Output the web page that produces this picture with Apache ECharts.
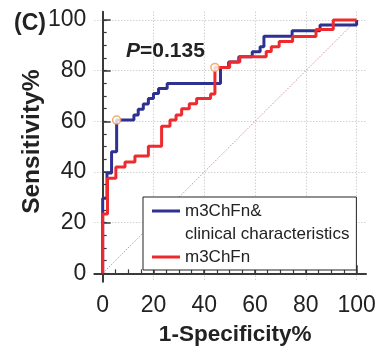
<!DOCTYPE html>
<html>
<head>
<meta charset="utf-8">
<script src="https://cdn.jsdelivr.net/npm/echarts@6/dist/echarts.min.js"></script>
<style>
  html, body { margin: 0; padding: 0; background: #fff; }
  #chart { width: 378px; height: 347px; }
</style>
</head>
<body>
<div id="chart"></div>
<script>
/* ROC 阶梯曲线拐点 [1-特异度, 灵敏度] */
const comboRoc = [
  [0, 0], [0, 29.6], [1.7, 29.6], [1.7, 39.6], [3.5, 39.6], [3.5, 48], [5.5, 48], [5.5, 60.5],
  [12.3, 60.5], [12.3, 62.5], [14, 62.5], [14, 64.8], [16, 64.8], [16, 66.9], [18, 66.9], [18, 69],
  [20, 69], [20, 71], [22, 71], [22, 73], [25.4, 73], [25.4, 75], [46.4, 75], [46.4, 81.3],
  [49.6, 81.3], [49.6, 83.4], [53.6, 83.4], [53.6, 85.5], [58.9, 85.5], [58.9, 87.5], [62, 87.5],
  [62, 89.5], [63.5, 89.5], [63.5, 93.6], [74.6, 93.6], [74.6, 95.8], [85.6, 95.8], [85.6, 98],
  [100, 98], [100, 100]
];
const m3chfnRoc = [
  [0, 0], [0, 23.4], [1.9, 23.4], [1.9, 37.5], [5.2, 37.5], [5.2, 42], [8.8, 42], [8.8, 44],
  [12.7, 44], [12.7, 46.3], [18, 46.3], [18, 50.2], [23.2, 50.2], [23.2, 58.1], [26.5, 58.1],
  [26.5, 60.5], [28.9, 60.5], [28.9, 62.5], [31.1, 62.5], [31.1, 65], [34.1, 65], [34.1, 67],
  [37, 67], [37, 69], [42.5, 69], [42.5, 70.8], [44.2, 70.8], [44.2, 81.3], [50, 81.3], [50, 83.4],
  [54, 83.4], [54, 85.5], [64.4, 85.5], [64.4, 87.6], [66.4, 87.6], [66.4, 89.5], [69.5, 89.5],
  [69.5, 91.5], [74.8, 91.5], [74.8, 93.5], [84, 93.5], [84, 96.3], [90.8, 96.3], [90.8, 100],
  [100, 100]
];
/* 最佳截断点 */
const cutoffPoints = [[5.5, 60.5], [44.2, 81.3]];
/* 参考对角线 */
const chanceLine = [[0, 0], [100, 100]];

const majorTicks = [0, 20, 40, 60, 80, 100];
const minorTicks = [0, 5, 10, 15, 20, 25, 30, 35, 40, 45, 50, 55, 60, 65, 70, 75, 80, 85, 90, 95, 100];

const seriesNames = ['m3ChFn&', 'clinical characteristics', 'm3ChFn'];
const pText = 'P';
const pValue = '=0.135';
const panelLabel = '(C)';

const FONT = "'Liberation Sans', Arial, sans-serif";
const AXIS_COLOR = '#3a3a3a';
const BLUE = '#2e3192';
const RED = '#ee2a2e';
const ORANGE = '#f39a4c';

const xRange = { min: -3.3, max: 103.7 };
const yRange = { min: -3.3, max: 103.3 };

const chart = echarts.init(document.getElementById('chart'));

const majorAxis = (range, labelMargin) => ({
  type: 'value',
  min: range.min,
  max: range.max,
  axisLine: { show: true, lineStyle: { color: AXIS_COLOR, width: 2 } },
  axisTick: { show: true, inside: true, length: 8, customValues: majorTicks, lineStyle: { color: AXIS_COLOR, width: 1.5 } },
  axisLabel: { show: true, customValues: majorTicks, margin: labelMargin, color: '#222', fontSize: 23, fontFamily: FONT },
  splitLine: { show: true, lineStyle: { color: '#bdbdbd', type: [1, 2], width: 1 } }
});

const minorAxis = (range) => ({
  type: 'value',
  min: range.min,
  max: range.max,
  axisLine: { show: false },
  axisTick: { show: true, inside: true, length: 4, customValues: minorTicks, lineStyle: { color: AXIS_COLOR, width: 1.2 } },
  axisLabel: { show: false },
  splitLine: { show: false }
});

const option = {
  backgroundColor: '#fff',
  animation: false,
  grid: { left: 94.3, right: 12, top: 11.7, bottom: 65.3, outerBoundsMode: 'none', containLabel: false },
  title: [
    { text: panelLabel, left: 9, top: 7, textStyle: { fontSize: 23, fontWeight: 'bold', color: '#222', fontFamily: FONT } },
    {
      text: `{i|${pText}}{b|${pValue}}`,
      left: 121,
      top: 36,
      textStyle: {
        rich: {
          i: { fontSize: 21, fontWeight: 'bold', fontStyle: 'italic', color: '#222', fontFamily: FONT },
          b: { fontSize: 21, fontWeight: 'bold', color: '#222', fontFamily: FONT }
        }
      }
    }
  ],
  xAxis: [
    Object.assign(majorAxis(xRange, 12), {
      name: '1-Specificity%',
      nameLocation: 'middle',
      nameGap: 42,
      nameMoveOverlap: false,
      nameTextStyle: { fontSize: 22.5, fontWeight: 'bold', color: '#222', fontFamily: FONT, padding: [0, 0, 0, 10] }
    }),
    Object.assign(minorAxis(xRange), { position: 'bottom' })
  ],
  yAxis: [
    Object.assign(majorAxis(yRange, 8), {
      name: 'Sensitivity%',
      nameLocation: 'middle',
      nameGap: 50,
      nameMoveOverlap: false,
      nameTextStyle: { fontSize: 24.5, fontWeight: 'bold', color: '#222', fontFamily: FONT, padding: [0, 0, 0, 10] }
    }),
    Object.assign(minorAxis(yRange), { position: 'left' })
  ],
  legend: {
    orient: 'vertical',
    left: 143,
    top: 197,
    padding: [4, 7, 3, 9],
    itemGap: 3,
    itemWidth: 28,
    itemHeight: 3,
    icon: 'rect',
    backgroundColor: '#fff',
    borderColor: '#222',
    borderWidth: 1,
    z: 10,
    textStyle: { fontSize: 17, lineHeight: 20, color: '#222', fontFamily: FONT },
    data: seriesNames
  },
  series: [
    {
      name: 'chance',
      type: 'line',
      data: chanceLine,
      symbol: 'none',
      silent: true,
      lineStyle: { color: '#c07a7a', width: 0.8, type: [1.5, 1.5] },
      z: 1
    },
    {
      name: seriesNames[0],
      type: 'line',
      data: comboRoc,
      symbol: 'none',
      lineStyle: { color: BLUE, width: 3 },
      itemStyle: { color: BLUE },
      z: 2
    },
    {
      name: seriesNames[1],
      type: 'line',
      data: [],
      symbol: 'none',
      lineStyle: { color: '#fff', opacity: 0 },
      itemStyle: { color: '#fff', opacity: 0 }
    },
    {
      name: seriesNames[2],
      type: 'line',
      data: m3chfnRoc,
      symbol: 'none',
      lineStyle: { color: RED, width: 3 },
      itemStyle: { color: RED },
      z: 3
    },
    {
      name: 'cutoff',
      type: 'scatter',
      data: cutoffPoints,
      symbol: 'circle',
      symbolSize: 8,
      itemStyle: { color: '#fff', borderColor: ORANGE, borderWidth: 1.5 },
      z: 4
    }
  ]
};

chart.setOption(option);
</script>
</body>
</html>
